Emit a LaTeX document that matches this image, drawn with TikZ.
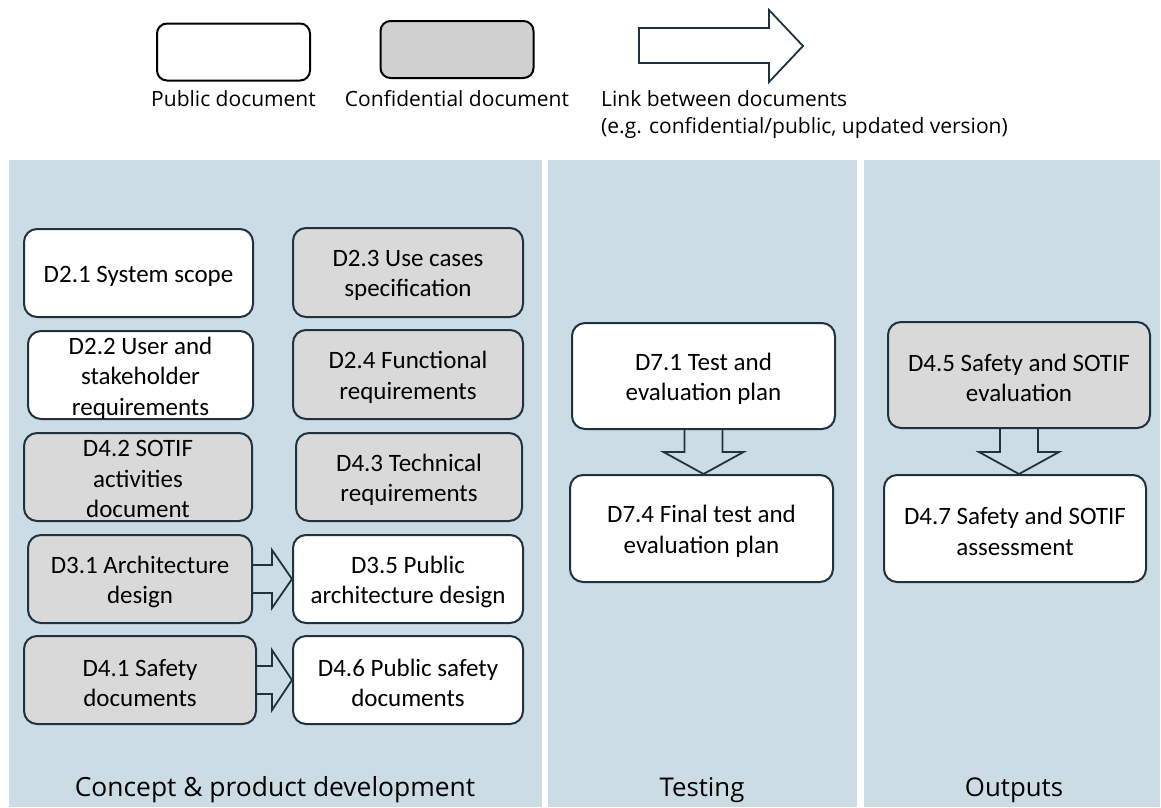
\documentclass[tikz,border=0pt]{standalone}
\usepackage{fontspec}
\setmainfont{Carlito}
\newfontfamily\capfont{Open Sans}
\usetikzlibrary{calc}
\definecolor{panel}{HTML}{CCDCE5}
\definecolor{edge}{HTML}{1E3240}
\definecolor{conf}{HTML}{D9D9D9}
\definecolor{conflegend}{HTML}{D0D0D0}
\begin{document}
\begin{tikzpicture}[x=1pt,y=-1pt,
  doc/.style={draw=edge, line width=2pt, rounded corners=13pt, inner sep=0pt},
  pub/.style={doc, fill=white},
  cnf/.style={doc, fill=conf},
  doctxt/.style={align=center, font=\fontsize{25}{30.5}\selectfont, inner sep=0pt},
  legbox/.style={draw=black, line width=2pt, rounded corners=10pt, minimum width=153pt, minimum height=57pt},
  blk/.style={draw=edge, line width=1.8pt, line join=miter},
  captxt/.style={font=\capfont\fontsize{21}{25}\selectfont, anchor=base, inner sep=0pt},
  labtxt/.style={font=\capfont\fontsize{25.8}{30}\selectfont, anchor=base, inner sep=0pt},
  panelbox/.style={fill=panel, draw=none}]
\useasboundingbox (0,0) rectangle (1161,807);
\fill[white] (0,0) rectangle (1161,807);

% panels
\fill[panelbox] (9,160) rectangle (542,807);
\fill[panelbox] (548,160) rectangle (857,807);
\fill[panelbox] (864,160) rectangle (1160,807);

% legend
\node[legbox, fill=white] (lpub) at (233.5,52) {};
\node[legbox, fill=conflegend] (lconf) at (457,49.5) {};
\draw[blk] (639,28) -- (769,28) -- (769,10) -- (803,46) -- (769,82) -- (769,63) -- (639,63) -- cycle;
\node[captxt] (tpub) at (233.5,106) {Public document};
\node[captxt] (tconf) at (457,106) {Confidential document};
\node[captxt, anchor=base west] (tlink) at (601,106) {Link between documents};
\node[captxt, anchor=base west] (tlink2) at (601,133) {(e.g. confidential/public, updated version)};

% concept column boxes
\node[pub, minimum width=229pt, minimum height=88pt] (d21) at (138.5,273) {};
\node[cnf, minimum width=230pt, minimum height=89pt] (d23) at (408,272.5) {};
\node[pub, minimum width=225pt, minimum height=88pt] (d22) at (140.5,375) {};
\node[cnf, minimum width=230pt, minimum height=89pt] (d24) at (408,374.5) {};
\node[cnf, minimum width=228pt, minimum height=88pt] (d42) at (138,477) {};
\node[cnf, minimum width=226pt, minimum height=88pt] (d43) at (409,477) {};
\node[cnf, minimum width=224pt, minimum height=88pt] (d31) at (140,579) {};
\node[pub, minimum width=230pt, minimum height=88pt] (d35) at (408,579) {};
\node[cnf, minimum width=232pt, minimum height=88pt] (d41) at (140,680) {};
\node[pub, minimum width=230pt, minimum height=88pt] (d46) at (408,680) {};
% testing column boxes
\node[pub, minimum width=263pt, minimum height=106pt] (d71) at (703.5,376) {};
\node[pub, minimum width=263pt, minimum height=107pt] (d74) at (701.5,528.5) {};
% outputs column boxes
\node[cnf, minimum width=262pt, minimum height=106pt] (d45) at (1019,375) {};
\node[pub, minimum width=262pt, minimum height=107pt] (d47) at (1015,528.5) {};

% box texts
\node[doctxt] (t21) at ([yshift=-3pt]d21.center) {D2.1 System scope};
\node[doctxt] (t23) at ([yshift=-3pt]d23.center) {D2.3 Use cases\\specification};
\node[doctxt] (t22) at ([yshift=-3pt]d22.center) {D2.2 User and\\stakeholder\\requirements};
\node[doctxt] (t24) at ([yshift=-3pt]d24.center) {D2.4 Functional\\requirements};
\node[doctxt] (t42) at ([yshift=-2pt]d42.center) {D4.2 SOTIF\\activities\\document};
\node[doctxt] (t43) at ([yshift=-3pt]d43.center) {D4.3 Technical\\requirements};
\node[doctxt] (t31) at ([yshift=-3pt]d31.center) {D3.1 Architecture\\design};
\node[doctxt] (t35) at ([yshift=-3pt]d35.center) {D3.5 Public\\architecture design};
\node[doctxt] (t41) at ([yshift=-3pt]d41.center) {D4.1 Safety\\documents};
\node[doctxt] (t46) at ([yshift=-3pt]d46.center) {D4.6 Public safety\\documents};
\node[doctxt] (t71) at ([yshift=-3pt]d71.center) {D7.1 Test and\\evaluation plan};
\node[doctxt] (t74) at ([yshift=-3pt]d74.center) {D7.4 Final test and\\evaluation plan};
\node[doctxt] (t45) at ([yshift=-3pt]d45.center) {D4.5 Safety and SOTIF\\evaluation};
\node[doctxt] (t47) at ([yshift=-3pt]d47.center) {D4.7 Safety and SOTIF\\assessment};

% horizontal block arrows
\draw[blk] let \p1=(d31.east), \p2=(d35.west) in
  (\x1,\y1+14pt) -- (\x2-20pt,\y1+14pt) -- (\x2-20pt,\y1+29pt) -- (\x2,\y1)
  -- (\x2-20pt,\y1-29pt) -- (\x2-20pt,\y1-14pt) -- (\x1,\y1-14pt);
\draw[blk] let \p1=(d41.east), \p2=(d46.west) in
  (\x1,\y1+14pt) -- (\x2-20pt,\y1+14pt) -- (\x2-20pt,\y1+30pt) -- (\x2,\y1)
  -- (\x2-20pt,\y1-30pt) -- (\x2-20pt,\y1-14pt) -- (\x1,\y1-14pt);

% vertical block arrows
\draw[blk] let \p1=(d71.south), \p2=(d74.north) in
  (\x1-19pt,\y1) -- (\x1-19pt,\y2+22pt) -- (\x1-40pt,\y2+22pt) -- (\x1,\y2)
  -- (\x1+40pt,\y2+22pt) -- (\x1+19pt,\y2+22pt) -- (\x1+19pt,\y1);
\draw[blk] let \p1=(d45.south), \p2=(d47.north) in
  (\x1-19pt,\y1) -- (\x1-19pt,\y2+22pt) -- (\x1-40pt,\y2+22pt) -- (\x1,\y2)
  -- (\x1+40pt,\y2+22pt) -- (\x1+19pt,\y2+22pt) -- (\x1+19pt,\y1);

% panel labels
\node[labtxt, font=\capfont\fontsize{26.4}{30}\selectfont] (lc) at (275,796.5) {Concept \& product development};
\node[labtxt] (lt) at (702,796.5) {Testing};
\node[labtxt] (lo) at (1014,796.5) {Outputs};
\end{tikzpicture}
\end{document}
